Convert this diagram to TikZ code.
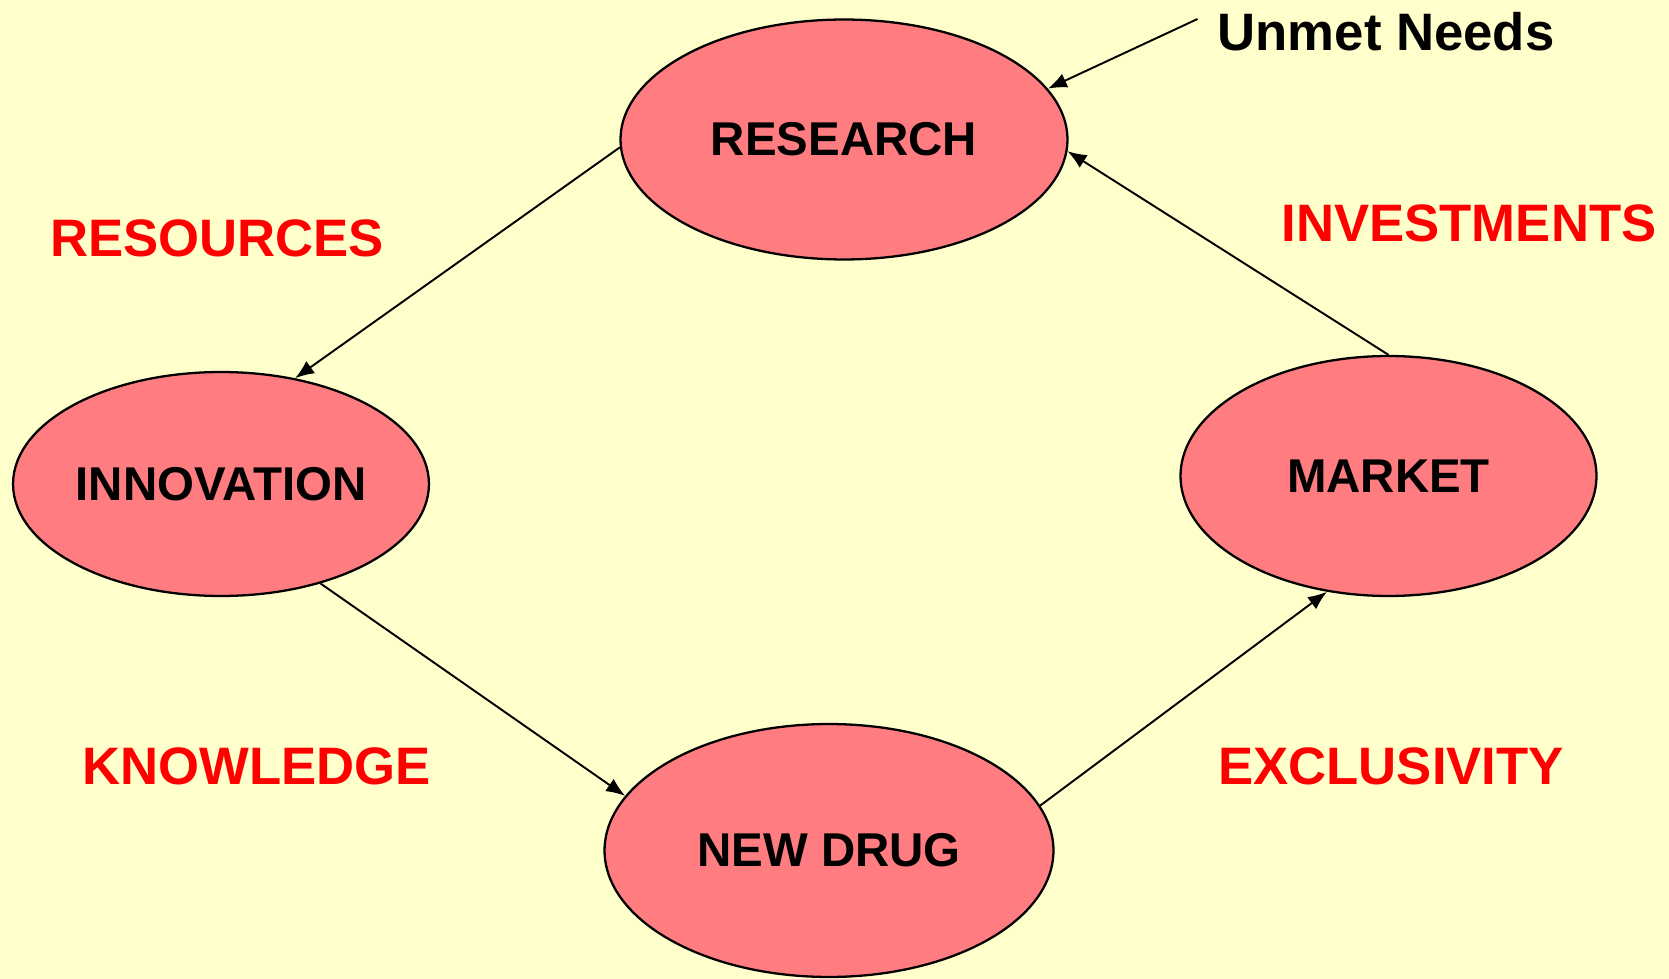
\documentclass[tikz,border=0pt]{standalone}
\usepackage{fontspec}
\setmainfont{Liberation Sans}
\usepackage{xcolor}
\usetikzlibrary{arrows.meta,shapes.geometric}
\definecolor{bgyellow}{RGB}{255,255,204}
\definecolor{blobred}{RGB}{255,124,128}
\definecolor{labelred}{RGB}{255,0,0}

\begin{document}
\begin{tikzpicture}[
    x=0.02cm, y=-0.02cm,
    font=\bfseries\fontsize{27}{32}\selectfont,
    >=Latex,
    blob/.style={ellipse, draw=black, line width=1.3pt, fill=blobred, inner sep=0pt},
    redlabel/.style={text=labelred, font=\bfseries\fontsize{30}{36}\selectfont},
    arrow/.style={-{Latex[length=3.8mm, width=3mm]}, line width=1.1pt, draw=black}
]
\fill[bgyellow] (0,0) rectangle (1669,979);
\useasboundingbox (0,0) rectangle (1669,979);
\node[blob, minimum width=8.94cm, minimum height=4.8cm] (research) at (844,139.5) {RESEARCH};
\node[blob, minimum width=8.32cm, minimum height=4.48cm] (innovation) at (221,484) {INNOVATION};
\node[blob, minimum width=8.32cm, minimum height=4.8cm] (market) at (1388.5,476) {MARKET};
\node[blob, minimum width=8.98cm, minimum height=5.06cm] (newdrug) at (829,850.5) {NEW DRUG};
\node[redlabel] (resources) at (217,238.5) {RESOURCES};
\node[redlabel] (investments) at (1469,223.5) {INVESTMENTS};
\node[redlabel] (knowledge) at (256.5,766.5) {KNOWLEDGE};
\node[redlabel] (exclusivity) at (1391,766.5) {EXCLUSIVITY};
\node[font=\bfseries\fontsize{30}{36}\selectfont] (needs) at (1386,32) {Unmet Needs};
\coordinate (needsfoot) at (1197.5,19);
\draw[arrow] (research.182.4) -- (innovation.55);
\draw[arrow] (innovation.315.6) -- (newdrug.165);
\draw[arrow] (newdrug.12.7) -- (market.242.1);
\draw[arrow] (market.90) -- (research.357.6);
\draw[arrow] (needsfoot) -- (research.14.5);
\end{tikzpicture}
\end{document}
